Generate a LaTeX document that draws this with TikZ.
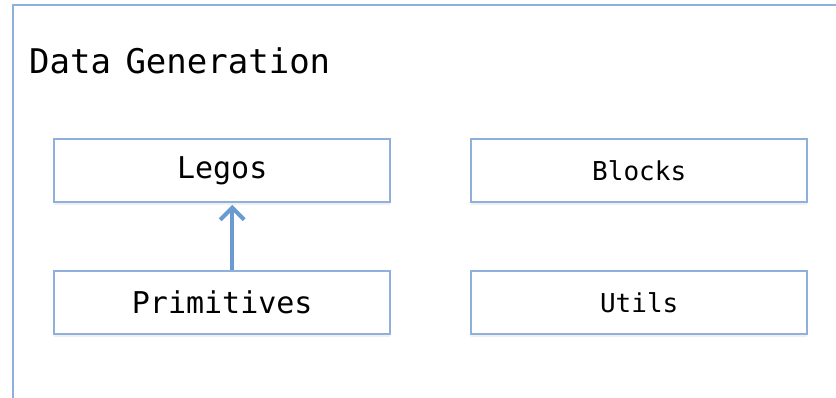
\documentclass[tikz,border=0pt]{standalone}
\usepackage{fontspec}
\setmonofont{DejaVu Sans Mono}
\usetikzlibrary{arrows.meta,shadows}
\definecolor{frameblue}{HTML}{8EB0DA}
\definecolor{arrowblue}{HTML}{6A9AD0}
\tikzset{
  box/.style={draw=frameblue, line width=2.4pt, fill=white, minimum width=336pt, minimum height=63pt,
    inner sep=0pt, anchor=north west, font=\ttfamily,
    drop shadow={opacity=0.12, shadow xshift=0pt, shadow yshift=-2.5pt}},
  bigtext/.style={font=\fontsize{30}{30}\selectfont\ttfamily},
  smalltext/.style={font=\fontsize{26}{26}\selectfont\ttfamily},
  link/.style={draw=arrowblue, line width=4pt, -{Straight Barb[length=12pt,width=24pt,line width=4pt]}}
}
\begin{document}
\begin{tikzpicture}[x=1pt,y=-1pt]
\useasboundingbox (0,0) rectangle (836,398);
\clip (0,0) rectangle (836,398);
\draw[frameblue, line width=2.4pt] (13,5) rectangle (950,500);
\node[anchor=base west, inner sep=0pt, font=\fontsize{34}{34}\selectfont\ttfamily] (title) at (29,74) {Data\hspace{-6pt} Generation};
\node[box, bigtext] (legos) at (53,138) {Legos};
\node[box, bigtext] (prim) at (53,270) {Primitives};
\node[box, smalltext] (blocks) at (470,138) {Blocks};
\node[box, smalltext] (utils) at (470,270) {Utils};
\draw[link] ([xshift=10pt]prim.north) -- ([xshift=10pt, yshift=-1.5pt]legos.south);
\end{tikzpicture}
\end{document}
